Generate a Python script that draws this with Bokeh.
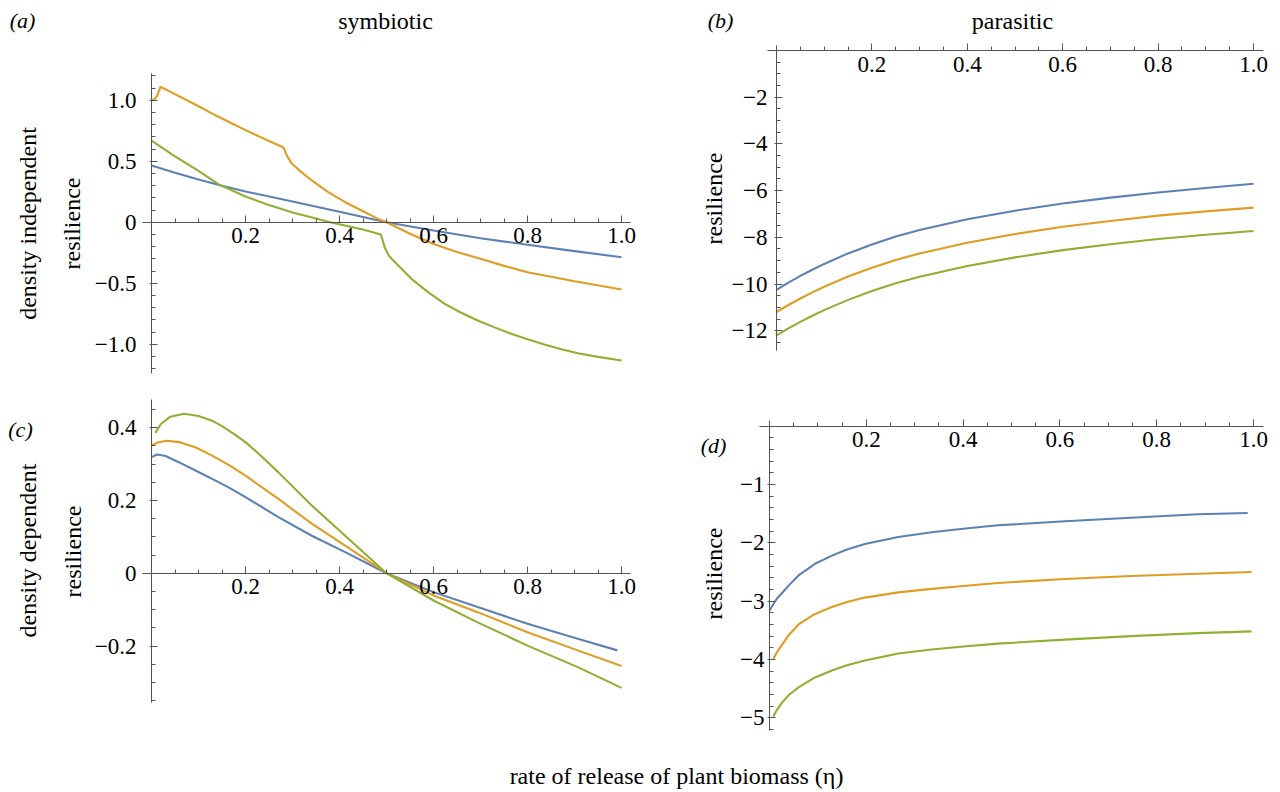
import numpy as np
from bokeh.plotting import figure
from bokeh.models import Range1d, LinearAxis, FixedTicker, Label
from bokeh.embed import file_html
from bokeh.resources import INLINE

BLUE, ORANGE, GREEN = "#5E81B5", "#E19C24", "#8FB032"
SERIF = "Liberation Serif"
AXIS_COLOR = "#555555"

# ---------------- data: panel (a) symbiotic, density independent ----------------
a_blue_x = [0, 0.05, 0.1, 0.15, 0.2, 0.3, 0.4, 0.5, 0.6, 0.7, 0.8, 0.9, 1.0]
a_blue_y = [0.464, 0.405, 0.35, 0.298, 0.252, 0.169, 0.085, 0.0, -0.068, -0.131, -0.185, -0.237, -0.287]

a_orange_x = [0, 0.007, 0.012, 0.019, 0.05, 0.1, 0.129, 0.15, 0.2, 0.25, 0.281, 0.288, 0.298, 0.313,
              0.341, 0.376, 0.412, 0.447, 0.482, 0.5, 0.55, 0.6, 0.65, 0.7, 0.75, 0.8, 0.9, 1.0]
a_orange_y = [1.0, 1.01, 1.035, 1.11, 1.05, 0.95, 0.89, 0.85, 0.755, 0.665, 0.612, 0.546, 0.484, 0.429,
              0.342, 0.246, 0.164, 0.096, 0.027, 0.0, -0.095, -0.178, -0.245, -0.30, -0.358, -0.41, -0.484, -0.552]

a_green_x = [0, 0.05, 0.1, 0.143, 0.2, 0.25, 0.3, 0.35, 0.38, 0.45, 0.488, 0.492, 0.496, 0.504,
             0.511, 0.525, 0.553, 0.589, 0.624, 0.659, 0.694, 0.73, 0.765, 0.8, 0.836, 0.87, 0.907, 0.95, 1.0]
a_green_y = [0.669, 0.54, 0.42, 0.31, 0.21, 0.14, 0.08, 0.03, 0.0, -0.06, -0.10, -0.15, -0.205, -0.268,
             -0.30, -0.355, -0.464, -0.575, -0.669, -0.742, -0.806, -0.862, -0.915, -0.96, -1.003,
             -1.04, -1.074, -1.104, -1.134]

# ---------------- data: panel (b) parasitic, density independent ----------------
b_x = [0, 0.025, 0.05, 0.075, 0.1, 0.15, 0.2, 0.25, 0.3, 0.4, 0.5, 0.6, 0.7, 0.8, 0.9, 1.0]
b_blue_y = [-10.25, -9.94, -9.65, -9.39, -9.14, -8.69, -8.31, -7.97, -7.69, -7.23, -6.86, -6.55, -6.30, -6.08, -5.89, -5.71]
b_orange_y = [-11.2, -10.9, -10.62, -10.36, -10.12, -9.68, -9.3, -8.97, -8.69, -8.23, -7.86, -7.55, -7.30, -7.07, -6.89, -6.73]
b_green_y = [-12.2, -11.9, -11.62, -11.36, -11.12, -10.68, -10.3, -9.97, -9.69, -9.23, -8.86, -8.55, -8.30, -8.07, -7.89, -7.73]

# ---------------- data: panel (c) symbiotic, density dependent ----------------
c_blue_x = [0, 0.012, 0.03, 0.058, 0.1, 0.129, 0.165, 0.2, 0.27, 0.341, 0.412, 0.5, 0.6, 0.694, 0.8, 0.907, 0.991]
c_blue_y = [0.319, 0.326, 0.322, 0.305, 0.278, 0.259, 0.235, 0.209, 0.154, 0.103, 0.058, 0.0, -0.052, -0.093, -0.139, -0.18, -0.212]
c_orange_x = [0, 0.015, 0.033, 0.06, 0.093, 0.129, 0.165, 0.2, 0.27, 0.341, 0.412, 0.5, 0.6, 0.694, 0.8, 0.907, 1.0]
c_orange_y = [0.351, 0.36, 0.364, 0.36, 0.346, 0.323, 0.297, 0.268, 0.204, 0.136, 0.076, 0.0, -0.061, -0.107, -0.162, -0.212, -0.255]
c_green_x = [0.008, 0.02, 0.04, 0.069, 0.1, 0.129, 0.15, 0.175, 0.2, 0.235, 0.27, 0.341, 0.412, 0.5, 0.6, 0.694, 0.8, 0.907, 1.0]
c_green_y = [0.385, 0.41, 0.43, 0.438, 0.432, 0.419, 0.404, 0.383, 0.36, 0.32, 0.277, 0.186, 0.103, 0.0, -0.075, -0.135, -0.199, -0.258, -0.315]

# ---------------- data: panel (d) parasitic, density dependent ----------------
d_blue_x = [0, 0.008, 0.015, 0.025, 0.04, 0.06, 0.094, 0.129, 0.16, 0.197, 0.266, 0.335, 0.4, 0.472, 0.61, 0.747, 0.885, 0.988]
d_blue_y = [-3.16, -3.05, -2.96, -2.87, -2.73, -2.56, -2.36, -2.22, -2.115, -2.02, -1.90, -1.82, -1.76, -1.70, -1.63, -1.57, -1.51, -1.49]
d_x = [0.008, 0.015, 0.025, 0.04, 0.06, 0.094, 0.129, 0.16, 0.197, 0.266, 0.335, 0.4, 0.472, 0.61, 0.747, 0.885, 0.996]
d_orange_y = [-3.99, -3.88, -3.76, -3.58, -3.40, -3.22, -3.10, -3.015, -2.94, -2.85, -2.79, -2.74, -2.69, -2.62, -2.57, -2.53, -2.50]
d_green_y = [-4.98, -4.87, -4.75, -4.61, -4.48, -4.31, -4.19, -4.10, -4.02, -3.90, -3.83, -3.78, -3.73, -3.66, -3.60, -3.55, -3.52]

# ---------------- ticks ----------------
x_ticks = [0.2, 0.4, 0.6, 0.8, 1.0]
x_tick_labels = ["0.2", "0.4", "0.6", "0.8", "1.0"]
x_minor = [round(0.05 * i, 2) for i in range(1, 21)]

a_y_ticks = [-1.0, -0.5, 0, 0.5, 1.0]
a_y_labels = ["\u22121.0", "\u22120.5", "0", "0.5", "1.0"]
a_y_minor = [round(-1.2 + 0.1 * i, 2) for i in range(25)]

b_y_ticks = [-12, -10, -8, -6, -4, -2]
b_y_labels = ["\u221212", "\u221210", "\u22128", "\u22126", "\u22124", "\u22122"]
b_y_minor = [round(-12.5 + 0.5 * i, 2) for i in range(25)]

c_y_ticks = [-0.2, 0, 0.2, 0.4]
c_y_labels = ["\u22120.2", "0", "0.2", "0.4"]
c_y_minor = [round(-0.35 + 0.05 * i, 2) for i in range(17)]

d_y_ticks = [-5, -4, -3, -2, -1]
d_y_labels = ["\u22125", "\u22124", "\u22123", "\u22122", "\u22121"]
d_y_minor = [round(-5.2 + 0.2 * i, 2) for i in range(26)]

TICK_FS = "23px"
LABEL_FS = "24px"

W, H = 1278, 790

p = figure(width=W, height=H, x_range=Range1d(0, W), y_range=Range1d(0, H),
           output_backend="svg", toolbar_location=None,
           x_axis_location=None, y_axis_location=None,
           min_border_left=0, min_border_right=0, min_border_top=0, min_border_bottom=0)
p.outline_line_color = None
p.background_fill_color = "white"
p.border_fill_color = "white"
for g in p.grid:
    g.visible = False


def panel(name, x0, sx, y0, sy):
    """Register ranges for one panel: page px = x0 + sx*x, py = y0 - sy*y."""
    p.extra_x_ranges[name + "x"] = Range1d((0 - x0) / sx, (W - x0) / sx)
    p.extra_y_ranges[name + "y"] = Range1d((y0 - H) / sy, (y0 - 0) / sy)
    return name + "x", name + "y"


def add_axes(xn, yn, xb, yb, yt, yl, ym, y_standoff):
    xa = LinearAxis(x_range_name=xn, y_range_name=yn, fixed_location=0, bounds=xb,
                    ticker=FixedTicker(ticks=x_ticks, minor_ticks=x_minor),
                    major_label_overrides={t: s for t, s in zip(x_ticks, x_tick_labels)})
    xa.major_tick_in = 7
    xa.major_tick_out = 0
    xa.minor_tick_in = 4
    xa.minor_tick_out = 0
    xa.major_label_standoff = 6
    ya = LinearAxis(x_range_name=xn, y_range_name=yn, fixed_location=0, bounds=yb,
                    ticker=FixedTicker(ticks=yt, minor_ticks=ym),
                    major_label_overrides={t: s for t, s in zip(yt, yl)})
    ya.major_tick_in = 6
    ya.major_tick_out = 2
    ya.minor_tick_in = 4
    ya.minor_tick_out = 0
    ya.major_label_standoff = y_standoff
    for ax in (xa, ya):
        ax.axis_line_color = AXIS_COLOR
        ax.major_tick_line_color = AXIS_COLOR
        ax.minor_tick_line_color = AXIS_COLOR
        ax.axis_line_width = 1
        ax.major_label_text_font = SERIF
        ax.major_label_text_font_size = TICK_FS
        ax.major_label_text_color = "black"
    p.add_layout(xa, "below")
    p.add_layout(ya, "left")


def add_text(px, py, text, size=LABEL_FS, angle=0.0, style="normal"):
    p.add_layout(Label(x=px, y=H - py, text=text, text_font=SERIF, text_font_size=size,
                       text_font_style=style, text_align="center", text_baseline="middle",
                       angle=angle, text_color="black"))


LW = 2.1

# Panel (a)
axn, ayn = panel("a", 151, 470, 221.7, 122)
add_axes(axn, ayn, (-0.02, 1.02), (-1.24, 1.22), a_y_ticks, a_y_labels, a_y_minor, 13)
p.line(a_blue_x, a_blue_y, color=BLUE, line_width=LW, x_range_name=axn, y_range_name=ayn)
p.line(a_orange_x, a_orange_y, color=ORANGE, line_width=LW, x_range_name=axn, y_range_name=ayn)
p.line(a_green_x, a_green_y, color=GREEN, line_width=LW, x_range_name=axn, y_range_name=ayn)

# Panel (b)
bxn, byn = panel("b", 776, 477, 50, 23.35)
add_axes(bxn, byn, (-0.019, 1.02), (-12.85, 0.21), b_y_ticks, b_y_labels, b_y_minor, 7)
p.line(b_x, b_blue_y, color=BLUE, line_width=LW, x_range_name=bxn, y_range_name=byn)
p.line(b_x, b_orange_y, color=ORANGE, line_width=LW, x_range_name=bxn, y_range_name=byn)
p.line(b_x, b_green_y, color=GREEN, line_width=LW, x_range_name=bxn, y_range_name=byn)

# Panel (c)
cxn, cyn = panel("c", 151, 470, 572.7, 364)
add_axes(cxn, cyn, (-0.02, 1.02), (-0.354, 0.476), c_y_ticks, c_y_labels, c_y_minor, 13)
p.line(c_blue_x, c_blue_y, color=BLUE, line_width=LW, x_range_name=cxn, y_range_name=cyn)
p.line(c_orange_x, c_orange_y, color=ORANGE, line_width=LW, x_range_name=cxn, y_range_name=cyn)
p.line(c_green_x, c_green_y, color=GREEN, line_width=LW, x_range_name=cxn, y_range_name=cyn)

# Panel (d)
dxn, dyn = panel("d", 769, 484, 425.7, 58.3)
add_axes(dxn, dyn, (-0.021, 1.02), (-5.22, 0.1), d_y_ticks, d_y_labels, d_y_minor, 3)
p.line(d_blue_x, d_blue_y, color=BLUE, line_width=LW, x_range_name=dxn, y_range_name=dyn)
p.line(d_x, d_orange_y, color=ORANGE, line_width=LW, x_range_name=dxn, y_range_name=dyn)
p.line(d_x, d_green_y, color=GREEN, line_width=LW, x_range_name=dxn, y_range_name=dyn)

# Texts
add_text(22, 20, "(a)", size="22px", style="italic")
add_text(385, 20, "symbiotic")
add_text(27, 223, "density independent", angle=np.pi / 2)
add_text(71, 223, "resilience", angle=np.pi / 2)
add_text(720, 20, "(b)", size="22px", style="italic")
add_text(1012, 20, "parasitic")
add_text(713, 198, "resilience", angle=np.pi / 2)
add_text(20, 429, "(c)", size="22px", style="italic")
add_text(27, 550, "density dependent", angle=np.pi / 2)
add_text(72, 551, "resilience", angle=np.pi / 2)
add_text(713, 445, "(d)", size="22px", style="italic")
add_text(713, 573, "resilience", angle=np.pi / 2)
add_text(676, 775, "rate of release of plant biomass (\u03b7)")

open("out.html", "w").write(file_html(p, INLINE))
